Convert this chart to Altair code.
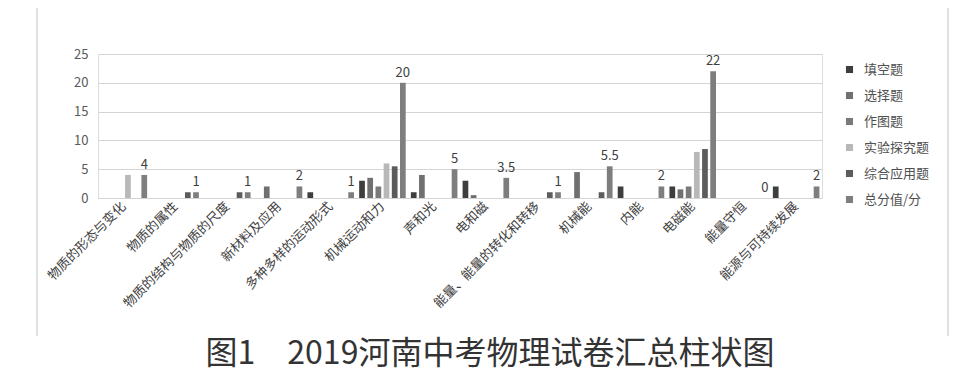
import altair as alt
import pandas as pd

categories = ["物质的形态与变化", "物质的属性", "物质的结构与物质的尺度", "新材料及应用",
              "多种多样的运动形式", "机械运动和力", "声和光", "电和磁",
              "能量、能量的转化和转移", "机械能", "内能", "电磁能", "能量守恒", "能源与可持续发展"]
series_names = ["填空题", "选择题", "作图题", "实验探究题", "综合应用题", "总分值/分"]
fill_blank = [0, 0, 0, 0, 1, 3, 1, 3, 0, 0, 2, 2, 0, 2]
choice = [0, 0, 0, 2, 0, 3.5, 4, 0.5, 0, 4.5, 0, 1.5, 0, 0]
drawing = [0, 0, 0, 0, 0, 2, 0, 0, 0, 0, 0, 2, 0, 0]
experiment = [4, 0, 0, 0, 0, 6, 0, 0, 0, 0, 0, 8, 0, 0]
comprehensive = [0, 1, 1, 0, 0, 5.5, 0, 0, 1, 1, 0, 8.5, 0, 0]
total = [4, 1, 1, 2, 1, 20, 5, 3.5, 1, 5.5, 2, 22, 0, 2]
y_ticks = [0, 5, 10, 15, 20, 25]
colors = ["#3e3e3e", "#707070", "#7a7a7a", "#b8b8b8", "#5c5c5c", "#7e7e7e"]

all_series = [fill_blank, choice, drawing, experiment, comprehensive, total]
rows = []
for s, vals in zip(series_names, all_series):
    for c, v in zip(categories, vals):
        rows.append({"category": c, "series": s, "value": v,
                     "label": ("%g" % v)})
df = pd.DataFrame(rows)

FONT = "Noto Sans CJK SC"

x_enc = alt.X("category:N", sort=categories, title=None,
              scale=alt.Scale(paddingInner=0.1, paddingOuter=0.05),
              axis=alt.Axis(labelAngle=-45, labelAlign="right", labelBaseline="middle",
                            labelFontSize=13, labelColor="#404040", labelPadding=6,
                            ticks=False, domainColor="#d4d4d4", grid=False, labelFont=FONT,
                            labelOverlap=False))
xo_enc = alt.XOffset("series:N", sort=series_names,
                     scale=alt.Scale(paddingInner=0.3, paddingOuter=0.0))
y_enc = alt.Y("value:Q", title=None,
              scale=alt.Scale(domain=[0, 25], nice=False, zero=True),
              axis=alt.Axis(values=y_ticks, labelFontSize=13,
                            labelColor="#595959", labelPadding=10, ticks=False,
                            domain=False, grid=True, gridColor="#d4d4d4", gridWidth=1,
                            labelFont=FONT, labelOverlap=False))

bars = alt.Chart(df).mark_bar().encode(
    x=x_enc, xOffset=xo_enc, y=y_enc,
    color=alt.Color("series:N", sort=series_names,
                    scale=alt.Scale(domain=series_names, range=colors),
                    legend=alt.Legend(title=None, orient="none", legendX=745, legendY=9,
                                      symbolType="square", symbolSize=50,
                                      symbolStrokeWidth=0,
                                      labelFontSize=13, labelColor="#505050",
                                      labelFont=FONT, rowPadding=12, labelOffset=8)),
)

labels = alt.Chart(df).transform_filter(
    alt.datum.series == "总分值/分"
).mark_text(dy=-10, fontSize=13, color="#404040", font=FONT).encode(
    x=x_enc, xOffset=xo_enc, y=y_enc, text="label:N"
)

frame_df = pd.DataFrame({"side": ["left", "right"]})
frame_left = alt.Chart(frame_df).transform_filter(alt.datum.side == "left").mark_rule(
    color="#d6d6d6", strokeWidth=1.5).encode(
    x=alt.value(-61), y=alt.value(-54), y2=alt.value(282))
frame_right = alt.Chart(frame_df).transform_filter(alt.datum.side == "right").mark_rule(
    color="#d6d6d6", strokeWidth=1.5).encode(
    x=alt.value(850), y=alt.value(-54), y2=alt.value(282))

chart = alt.layer(bars, labels, frame_left, frame_right).properties(
    width=724, height=144,
    autosize=alt.AutoSizeParams(type="none"),
    padding={"left": 90, "top": 46, "right": 130, "bottom": 180},
    title=alt.TitleParams("图1　2019河南中考物理试卷汇总柱状图", orient="bottom",
                          anchor="middle", frame="group", fontSize=32,
                          font=FONT, fontWeight="normal", color="#333333",
                          offset=2, dx=30),
).configure_view(stroke=None).configure_axisY(
    grid=True, gridColor="#d4d4d4", labelOverlap=False
).configure(background="white")

chart.save("out.html", embed_options={"renderer": "svg", "actions": False})
